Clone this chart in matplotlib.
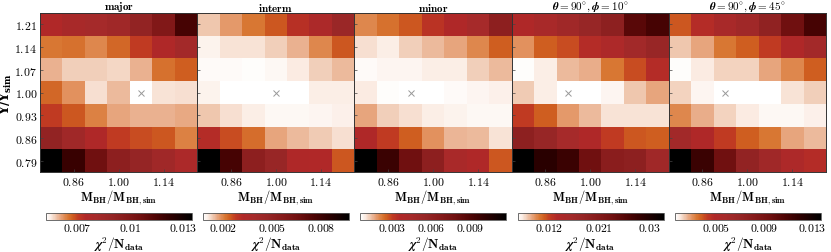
import numpy as np
import matplotlib
matplotlib.use("Agg")
import matplotlib.pyplot as plt
from matplotlib.colors import LinearSegmentedColormap, Normalize

plt.rcParams['mathtext.fontset'] = 'cm'
plt.rcParams['font.family'] = 'serif'
plt.rcParams['font.serif'] = ['DejaVu Serif']

# grid of scaling factors
mbh_factors = [0.79, 0.86, 0.93, 1.00, 1.07, 1.14, 1.21]
ml_factors = [0.79, 0.86, 0.93, 1.00, 1.07, 1.14, 1.21]
xtick_vals = [0.86, 1.00, 1.14]

titles = [r'$\mathbf{major}$', r'$\mathbf{interm}$', r'$\mathbf{minor}$',
          r'$\boldsymbol{\theta}\mathbf{=90^{\circ},}\boldsymbol{\phi}\mathbf{=10^{\circ}}$',
          r'$\boldsymbol{\theta}\mathbf{=90^{\circ},}\boldsymbol{\phi}\mathbf{=45^{\circ}}$']

# chi2/N_data in units of 1e-3; rows from Upsilon=1.21 (top) to 0.79 (bottom),
# columns from M_BH=0.79 to 1.21
chi2_major = [
    [7.48, 7.97, 8.14, 8.39, 9.13, 9.95, 11.69],
    [6.49, 6.57, 6.32, 6.65, 7.07, 7.56, 8.22],
    [5.99, 5.75, 5.75, 5.70, 5.99, 6.57, 6.74],
    [6.65, 6.24, 5.62, 5.91, 5.25, 5.58, 5.62],
    [7.07, 6.82, 6.41, 6.08, 5.99, 5.99, 6.03],
    [9.13, 8.39, 7.56, 7.07, 6.90, 6.82, 6.41],
    [13.50, 12.02, 10.61, 9.38, 8.96, 8.39, 7.73],
]
chi2_interm = [
    [1.40, 1.76, 2.12, 2.47, 3.01, 3.46, 4.53],
    [0.96, 1.14, 1.14, 1.32, 1.58, 1.94, 2.47],
    [0.87, 0.87, 0.82, 0.91, 1.09, 1.32, 1.49],
    [0.96, 0.81, 0.81, 0.78, 0.79, 1.05, 1.05],
    [1.40, 1.18, 1.05, 0.89, 0.91, 0.94, 1.00],
    [3.10, 2.56, 2.21, 1.67, 1.49, 1.36, 1.18],
    [9.70, 7.74, 5.24, 4.62, 3.28, 3.19, 2.47],
]
chi2_minor = [
    [2.06, 2.39, 2.73, 3.29, 3.74, 4.41, 6.20],
    [1.10, 0.94, 1.27, 1.50, 1.72, 2.06, 2.62],
    [0.73, 0.80, 0.80, 0.94, 0.94, 1.27, 1.50],
    [0.99, 0.66, 0.60, 0.62, 0.73, 0.80, 0.88],
    [1.72, 1.27, 1.10, 0.94, 0.82, 0.77, 0.77],
    [3.74, 3.06, 2.62, 1.94, 1.55, 1.50, 1.05],
    [11.80, 9.78, 7.88, 6.20, 4.18, 3.74, 2.73],
]
chi2_t90p10 = [
    [13.62, 14.95, 16.27, 17.86, 19.45, 25.28, 26.87],
    [9.38, 10.97, 11.50, 13.09, 13.89, 16.01, 17.60],
    [6.33, 7.00, 8.32, 8.59, 10.18, 11.50, 13.09],
    [7.92, 7.00, 6.20, 6.25, 6.68, 8.06, 8.85],
    [12.03, 10.97, 9.12, 8.32, 7.26, 7.26, 7.26],
    [19.45, 17.86, 15.21, 13.62, 12.03, 11.24, 10.97],
    [32.70, 29.26, 27.93, 23.43, 19.98, 19.45, 16.27],
]
chi2_t90p45 = [
    [3.90, 4.75, 5.59, 6.20, 7.41, 9.47, 11.04],
    [2.45, 2.81, 3.42, 3.78, 4.26, 4.99, 5.96],
    [1.66, 2.02, 2.27, 2.27, 2.81, 3.17, 3.78],
    [2.27, 1.82, 1.60, 1.62, 1.64, 2.08, 2.33],
    [3.17, 2.69, 2.27, 2.02, 1.75, 1.75, 1.90],
    [6.08, 4.99, 4.26, 3.78, 3.42, 2.81, 2.57],
    [13.70, 11.52, 9.47, 7.29, 6.20, 5.11, 4.75],
]
panels = [chi2_major, chi2_interm, chi2_minor, chi2_t90p10, chi2_t90p45]

cbar_ticks = [[0.007, 0.01, 0.013], [0.002, 0.005, 0.008], [0.003, 0.006, 0.009],
              [0.012, 0.021, 0.03], [0.005, 0.009, 0.013]]
cbar_ticklabels = [['0.007', '0.01', '0.013'], ['0.002', '0.005', '0.008'],
                   ['0.003', '0.006', '0.009'], ['0.012', '0.021', '0.03'],
                   ['0.005', '0.009', '0.013']]

cmap = LinearSegmentedColormap.from_list('chi', [
    (0.00, '#ffffff'), (0.03, '#fbece4'), (0.06, '#f1ceb8'), (0.09, '#e9ad8a'),
    (0.12, '#e18f5a'), (0.15, '#d87632'), (0.18, '#cf5e20'), (0.22, '#c03a22'),
    (0.27, '#b02828'), (0.35, '#a52a2a'), (0.45, '#952525'), (0.55, '#851a1a'),
    (0.65, '#701010'), (0.75, '#500505'), (0.85, '#300000'), (1.00, '#000000')])

W, H = 831, 253
fig = plt.figure(figsize=(W / 100, H / 100), dpi=100)

pw = 157.2
for i, data in enumerate(panels):
    arr = np.array(data) * 1e-3
    left = 40 + i * pw
    ax = fig.add_axes([left / W, 1 - 173 / H, pw / W, 159 / H])
    norm = Normalize(vmin=arr.min(), vmax=arr.max())
    x_edges = np.arange(len(mbh_factors) + 1) - 0.5
    y_edges = np.arange(len(ml_factors) + 1) - 0.5
    im = ax.pcolormesh(x_edges, y_edges, arr[::-1], cmap=cmap, norm=norm)
    ax.set_xlim(-0.5, len(mbh_factors) - 0.5)
    ax.set_ylim(-0.5, len(ml_factors) - 0.5)
    # best fit marker
    r, c = np.unravel_index(np.argmin(arr[::-1]), arr.shape)
    ax.plot(c, r, marker='x', color='#999999', ms=5, mew=0.7)
    ax.set_xticks([mbh_factors.index(v) for v in xtick_vals])
    ax.set_xticklabels([r'$%.2f$' % v for v in xtick_vals], fontsize=8.5)
    ax.set_yticks(range(len(ml_factors)))
    if i == 0:
        ax.set_yticklabels([r'$%.2f$' % v for v in ml_factors], fontsize=8.5)
        ax.set_ylabel(r'$\mathbf{\Upsilon/\Upsilon_{sim}}$', fontsize=9,
                      labelpad=0, math_fontfamily='dejavuserif')
    else:
        ax.set_yticklabels([])
    ax.tick_params(direction='in', length=2, width=0.5, pad=2, color='#444444')
    ax.set_xlabel(r'$\mathbf{M_{BH}/M_{BH,sim}}$', fontsize=9, labelpad=0)
    ax.set_title(titles[i], fontsize=8, pad=1.5)
    for s in ax.spines.values():
        s.set_linewidth(0.7)
        s.set_color('#333333')

    cax = fig.add_axes([(left + 6) / W, 1 - 221 / H, 146 / W, 7 / H])
    cb = fig.colorbar(im, cax=cax, orientation='horizontal')
    cb.set_ticks(cbar_ticks[i])
    cb.set_ticklabels(['$%s$' % t for t in cbar_ticklabels[i]])
    cb.ax.tick_params(labelsize=8.5, length=0, pad=1)
    cb.outline.set_linewidth(0.6)
    cb.outline.set_edgecolor('#555555')
    cb.set_label(r'$\boldsymbol{\chi}^{\mathbf{2}}/\mathbf{N_{data}}$', fontsize=9.5, labelpad=0)

fig.savefig('out.png', dpi=100)
